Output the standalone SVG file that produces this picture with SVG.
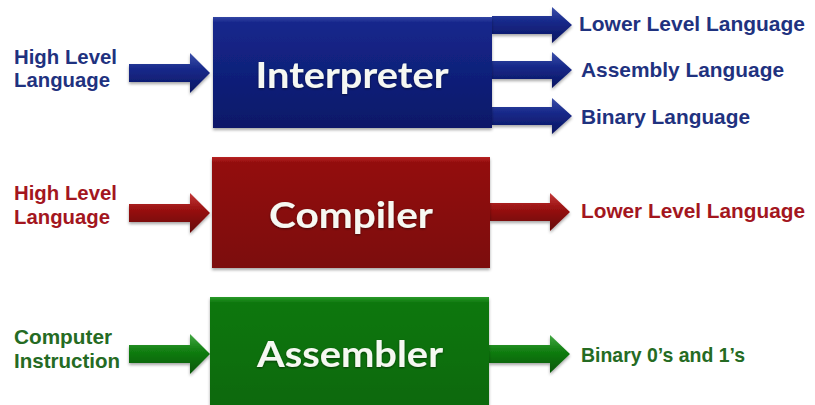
<svg xmlns="http://www.w3.org/2000/svg" width="815" height="405" viewBox="0 0 815 405">
  <style>
    .lbl { font-family: "Liberation Sans", Arial, sans-serif; font-weight: bold; font-size: 20.5px; }
    .blue { fill: #1f327f; }
    .red { fill: #a3161e; }
    .green { fill: #256b23; }
    .box-text { font-family: Lato, "Open Sans", sans-serif; font-weight: bold; font-size: 37px; fill: #f6f8f2; text-anchor: middle; }
  </style>
  <defs>
    <linearGradient id="gBoxBlue" x1="0" y1="0" x2="0" y2="1">
      <stop offset="0" stop-color="#3246a4"/>
      <stop offset="0.05" stop-color="#15278c"/>
      <stop offset="1" stop-color="#0b1868"/>
    </linearGradient>
    <linearGradient id="gBoxRed" x1="0" y1="0" x2="0" y2="1">
      <stop offset="0" stop-color="#b82626"/>
      <stop offset="0.05" stop-color="#930d0d"/>
      <stop offset="1" stop-color="#7c0707"/>
    </linearGradient>
    <linearGradient id="gBoxGreen" x1="0" y1="0" x2="0" y2="1">
      <stop offset="0" stop-color="#2a9a2a"/>
      <stop offset="0.05" stop-color="#0d770d"/>
      <stop offset="1" stop-color="#086808"/>
    </linearGradient>
    <linearGradient id="gArrBlue" x1="0" y1="0" x2="0" y2="1">
      <stop offset="0" stop-color="#3c50aa"/>
      <stop offset="0.4" stop-color="#17298a"/>
      <stop offset="1" stop-color="#0a1560"/>
    </linearGradient>
    <linearGradient id="gArrRed" x1="0" y1="0" x2="0" y2="1">
      <stop offset="0" stop-color="#c43a3a"/>
      <stop offset="0.4" stop-color="#9a1212"/>
      <stop offset="1" stop-color="#640505"/>
    </linearGradient>
    <linearGradient id="gArrGreen" x1="0" y1="0" x2="0" y2="1">
      <stop offset="0" stop-color="#45a845"/>
      <stop offset="0.4" stop-color="#128012"/>
      <stop offset="1" stop-color="#055505"/>
    </linearGradient>
    <filter id="shadow" x="-5%" y="-5%" width="110%" height="120%">
      <feDropShadow dx="0" dy="2" stdDeviation="1.5" flood-color="#000" flood-opacity="0.35"/>
    </filter>
    <filter id="tshadow" x="-5%" y="-10%" width="110%" height="130%">
      <feDropShadow dx="0" dy="1" stdDeviation="0.8" flood-color="#000" flood-opacity="0.5"/>
    </filter>
  </defs>
  <rect width="815" height="405" fill="#ffffff"/>

  <g id="connectors" filter="url(#shadow)">
    <!-- Interpreter -->
    <path d="M129,64 H190 V53 L210,73 L190,93 V82 H129 Z" fill="url(#gArrBlue)"/>
    <path d="M492,16 H552 V7 L572,25 L552,43 V34 H492 Z" fill="url(#gArrBlue)"/>
    <path d="M492,61 H552 V52 L572,70 L552,88 V79 H492 Z" fill="url(#gArrBlue)"/>
    <path d="M492,107 H552 V98 L572,116 L552,134 V125 H492 Z" fill="url(#gArrBlue)"/>
    <!-- Compiler -->
    <path d="M129,204 H190 V193 L210,213 L190,233 V222 H129 Z" fill="url(#gArrRed)"/>
    <path d="M490,203 H550 V193 L570,212 L550,231 V221 H490 Z" fill="url(#gArrRed)"/>
    <!-- Assembler -->
    <path d="M129,345 H190 V334 L210,354 L190,374 V363 H129 Z" fill="url(#gArrGreen)"/>
    <path d="M489,345 H550 V335 L570,354 L550,373 V363 H489 Z" fill="url(#gArrGreen)"/>
  </g>

  <g id="interpreter">
    <rect x="213" y="17" width="279" height="111" fill="url(#gBoxBlue)" filter="url(#shadow)"/>
    <text class="box-text" x="352" y="88" textLength="193" lengthAdjust="spacingAndGlyphs" filter="url(#tshadow)">Interpreter</text>
  </g>
  <g id="compiler">
    <rect x="212" y="157" width="278" height="111" fill="url(#gBoxRed)" filter="url(#shadow)"/>
    <text class="box-text" x="351" y="228" textLength="164" lengthAdjust="spacingAndGlyphs" filter="url(#tshadow)">Compiler</text>
  </g>
  <g id="assembler">
    <rect x="210" y="297" width="279" height="115" fill="url(#gBoxGreen)" filter="url(#shadow)"/>
    <text class="box-text" x="350" y="367" textLength="186" lengthAdjust="spacingAndGlyphs" filter="url(#tshadow)">Assembler</text>
  </g>

  <g id="labels-interpreter">
    <text class="lbl blue" x="14" y="64" textLength="103" lengthAdjust="spacingAndGlyphs">High Level</text>
    <text class="lbl blue" x="14" y="87" textLength="96" lengthAdjust="spacingAndGlyphs">Language</text>
    <text class="lbl blue" x="579" y="31" textLength="226" lengthAdjust="spacingAndGlyphs">Lower Level Language</text>
    <text class="lbl blue" x="581" y="77" textLength="203" lengthAdjust="spacingAndGlyphs">Assembly Language</text>
    <text class="lbl blue" x="581" y="124" textLength="169" lengthAdjust="spacingAndGlyphs">Binary Language</text>
  </g>
  <g id="labels-compiler">
    <text class="lbl red" x="14" y="200" textLength="103" lengthAdjust="spacingAndGlyphs">High Level</text>
    <text class="lbl red" x="14" y="224" textLength="96" lengthAdjust="spacingAndGlyphs">Language</text>
    <text class="lbl red" x="581" y="218" textLength="224" lengthAdjust="spacingAndGlyphs">Lower Level Language</text>
  </g>
  <g id="labels-assembler">
    <text class="lbl green" x="14" y="344" textLength="98" lengthAdjust="spacingAndGlyphs">Computer</text>
    <text class="lbl green" x="14" y="368" textLength="106" lengthAdjust="spacingAndGlyphs">Instruction</text>
    <text class="lbl green" x="581" y="362" textLength="164" lengthAdjust="spacingAndGlyphs">Binary 0’s and 1’s</text>
  </g>
</svg>
